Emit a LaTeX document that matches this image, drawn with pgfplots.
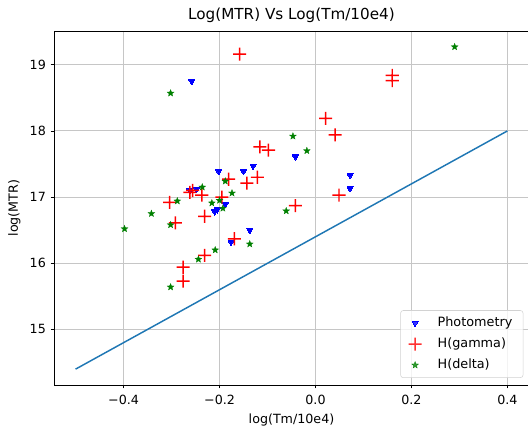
\documentclass[border=0pt]{standalone}
\usepackage{fontspec}
\setmainfont{DejaVu Sans}
\usepackage{pgfplots}
\pgfplotsset{compat=1.18}
\usetikzlibrary{plotmarks}
\definecolor{mplblue}{HTML}{1F77B4}
\definecolor{mplgreen}{RGB}{0,128,0}
\pgfdeclareplotmark{fstar}{%
  \pgfpathmoveto{\pgfpointpolar{90}{\pgfplotmarksize}}%
  \pgfpathlineto{\pgfpointpolar{126}{0.42\pgfplotmarksize}}%
  \pgfpathlineto{\pgfpointpolar{162}{\pgfplotmarksize}}%
  \pgfpathlineto{\pgfpointpolar{198}{0.42\pgfplotmarksize}}%
  \pgfpathlineto{\pgfpointpolar{234}{\pgfplotmarksize}}%
  \pgfpathlineto{\pgfpointpolar{270}{0.42\pgfplotmarksize}}%
  \pgfpathlineto{\pgfpointpolar{306}{\pgfplotmarksize}}%
  \pgfpathlineto{\pgfpointpolar{342}{0.42\pgfplotmarksize}}%
  \pgfpathlineto{\pgfpointpolar{18}{\pgfplotmarksize}}%
  \pgfpathlineto{\pgfpointpolar{54}{0.42\pgfplotmarksize}}%
  \pgfpathclose
  \pgfusepathqfillstroke
}
\pgfdeclareplotmark{fplus}{%
  \pgfpathrectanglecorners{\pgfpoint{-\pgfplotmarksize}{-0.55pt}}{\pgfpoint{\pgfplotmarksize}{0.55pt}}%
  \pgfpathrectanglecorners{\pgfpoint{-0.55pt}{-\pgfplotmarksize}}{\pgfpoint{0.55pt}{\pgfplotmarksize}}%
  \pgfusepathqfill
}
\begin{document}
\begin{tikzpicture}
\useasboundingbox (0,0) rectangle (396pt,322.5pt);
\begin{axis}[
  at={(40.5pt,33.75pt)}, anchor=south west,
  scale only axis, width=356.25pt, height=265.5pt,
  xmin=-0.545, xmax=0.445, ymin=14.16, ymax=19.51,
  xtick={-0.4,-0.2,0,0.2,0.4},
  xticklabels={−0.4,−0.2,0.0,0.2,0.4},
  ytick={15,16,17,18,19},
  /pgf/number format/assume math mode=true,
  tick label style={font=\fontsize{9.5pt}{11pt}\selectfont},
  xticklabel style={yshift=-1.5pt},
  label style={font=\fontsize{9.5pt}{11pt}\selectfont},
  title style={font=\fontsize{11.4pt}{13pt}\selectfont, yshift=-3pt},
  title={Log(MTR) Vs Log(Tm/10e4)},
  xlabel={log(Tm/10e4)}, ylabel={log(MTR)},
  xlabel style={yshift=0pt}, ylabel style={yshift=0pt},
  grid=major, major grid style={gray!45, line width=0.8pt},
  axis line style={line width=0.6pt},
  tick align=outside, xtick pos=left, ytick pos=left,
  major tick length=2.6pt, tick style={black, line width=0.6pt},
  legend style={draw=gray!35, rounded corners=2pt, fill=white, fill opacity=0.8, text opacity=1,
    font=\fontsize{9.6pt}{11pt}\selectfont, at={(0.988,0.02)}, anchor=south east,
    row sep=3pt, inner xsep=6pt, inner ysep=3pt,
    /tikz/every odd column/.append style={column sep=10pt}},
  legend cell align=left,
]
\addplot[mplblue, line width=1.1pt, forget plot] coordinates {(-0.5,14.4) (0.4,18.0)};
\addplot[only marks, blue, mark=triangle*, mark size=2.6pt, mark options={rotate=180, fill=blue, draw=blue, line width=0pt}] coordinates {
(-0.258,18.75) (-0.202,17.39) (-0.150,17.39) (-0.130,17.47) (-0.262,17.10) (-0.248,17.12)
(-0.210,16.78) (-0.205,16.81) (-0.188,16.89) (-0.176,16.32) (-0.137,16.50) (-0.042,17.61)
(0.072,17.33) (0.072,17.13)};
\addlegendentry{Photometry}
\addplot[only marks, red, mark=fplus, mark size=4.9pt, mark options={fill=red}] coordinates {
(-0.158,19.16) (-0.116,17.76) (-0.098,17.71) (-0.181,17.27) (-0.143,17.21) (-0.121,17.30)
(-0.256,17.10) (-0.262,17.07) (-0.237,17.03) (-0.195,17.00) (-0.304,16.92) (-0.292,16.61)
(-0.231,16.71) (-0.169,16.37) (-0.231,16.12) (-0.276,15.94) (-0.276,15.73) (0.160,18.84)
(0.160,18.76) (0.021,18.19) (0.041,17.94) (0.049,17.03) (-0.042,16.87)};
\addlegendentry{H(gamma)}
\addplot[only marks, mplgreen, mark=fstar, mark size=2.7pt, mark options={fill=mplgreen, draw=mplgreen, line width=0.2pt}] coordinates {
(-0.302,18.57) (-0.236,17.15) (-0.188,17.24) (-0.174,17.06) (-0.288,16.94) (-0.216,16.91)
(-0.200,16.95) (-0.193,16.83) (-0.342,16.75) (-0.398,16.52) (-0.302,16.58) (-0.209,16.20)
(-0.244,16.06) (-0.302,15.64) (-0.137,16.29) (-0.061,16.79) (0.290,19.27) (-0.047,17.92)
(-0.018,17.70)};
\addlegendentry{H(delta)}
\end{axis}
\end{tikzpicture}
\end{document}
